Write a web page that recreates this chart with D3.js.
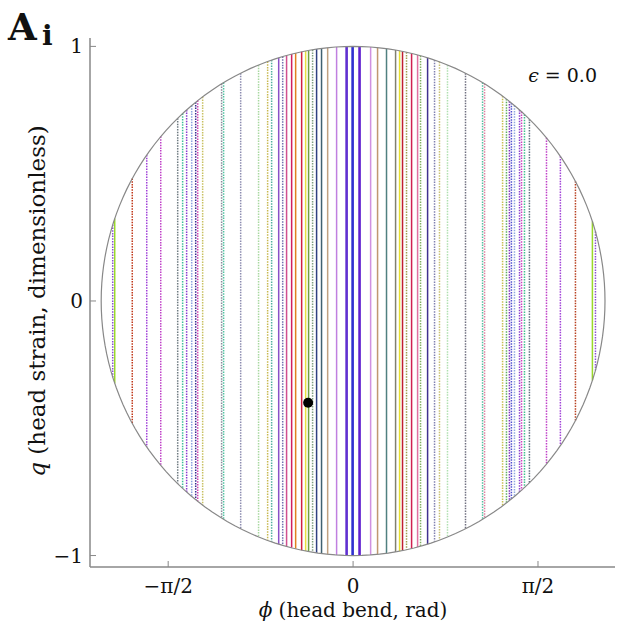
<!DOCTYPE html>
<html>
<head>
<meta charset="utf-8">
<script src="https://cdn.jsdelivr.net/npm/d3@7"></script>
<style>
  body { margin: 0; background: #fff; }
  svg text { font-family: "DejaVu Serif", "Liberation Serif", serif; fill: #111; }
</style>
</head>
<body>
<svg id="chart" width="617" height="630"></svg>
<script>
// orbit lines: phi position (rad), colour, solid or dotted
const linePhi = [
  -2.042, -2.025, -1.876, -1.753, -1.634, -1.490, -1.448, -1.414, -1.371, -1.337,
  -1.320, -1.278, -1.117, -1.100, -0.955, -0.803, -0.726, -0.692, -0.632, -0.598,
  -0.565, -0.522, -0.488, -0.437, -0.403, -0.378, -0.344, -0.310, -0.268, -0.216,
  -0.140, -0.055, -0.004, 0.055, 0.149, 0.208, 0.284, 0.361, 0.395, 0.420,
  0.454, 0.497, 0.548, 0.573, 0.633, 0.692, 0.734, 0.802, 0.955, 1.100,
  1.117, 1.270, 1.303, 1.328, 1.345, 1.371, 1.414, 1.431, 1.456, 1.498,
  1.643, 1.761, 1.889, 2.033, 2.059
];
const lineColor = [
  "#8a4fd0", "#9ad82a", "#c0391b", "#a040d8", "#c040c8", "#6e7a80", "#3fc09a", "#8a3ad0", "#8aa0e0", "#3a2a90",
  "#d040b0", "#c8c060", "#8a8a9a", "#50c0a0", "#8c8cb0", "#a8d8a0", "#c8b850", "#50b0a0", "#8a50c8", "#7070b0",
  "#d05090", "#d02060", "#e08020", "#d02040", "#e8e040", "#70a040", "#80a080", "#304080", "#406070", "#c0a080",
  "#c080e0", "#6030d0", "#3030d0", "#6020d0", "#d090e0", "#c09870", "#508080", "#808070", "#e8e030", "#c02030",
  "#a0a050", "#d02050", "#e070a0", "#80b060", "#403090", "#8080b0", "#c8c070", "#b0e0b0", "#707080", "#50c0a0",
  "#e080a0", "#c8c050", "#60b060", "#8030c0", "#5050d0", "#90a8e0", "#8a40d0", "#d040c0", "#40c090", "#607080",
  "#c040c8", "#a040d8", "#b84020", "#9ad82a", "#8a4fd0"
];
const lineSolid = [
  0, 1, 0, 0, 0, 0, 0, 0, 0, 0,
  0, 0, 0, 0, 0, 0, 0, 0, 1, 0,
  1, 1, 1, 1, 1, 1, 0, 1, 1, 1,
  1, 1, 1, 1, 1, 1, 1, 1, 1, 1,
  0, 1, 1, 0, 1, 0, 0, 0, 0, 0,
  0, 0, 0, 0, 0, 0, 0, 0, 0, 0,
  0, 0, 0, 1, 0
];
const phiRadius = 2.14;      // half-width of the energy circle in phi
const xTicks = [-Math.PI / 2, 0, Math.PI / 2];
const xTickLabels = ["−π/2", "0", "π/2"];
const yTicks = [-1, 0, 1];
const yTickLabels = ["−1", "0", "1"];
const initialPoint = [-0.382, -0.40];

const svg = d3.select("#chart");
const x = d3.scaleLinear().domain([-2.235, 2.225]).range([90, 615]);
const y = d3.scaleLinear().domain([-1.045, 1.033]).range([567, 38]);

// circle boundary
const circ = d3.range(0, 361, 2).map((a) => {
  const t = (a * Math.PI) / 180;
  return [phiRadius * Math.cos(t), Math.sin(t)];
});
const line = d3.line().x((d) => x(d[0])).y((d) => y(d[1]));

// orbit lines
const lines = linePhi.map((p, i) => ({ p, c: lineColor[i], s: lineSolid[i] }));
const half = (p) => Math.sqrt(Math.max(0, 1 - (p / phiRadius) ** 2));
svg.append("g")
  .selectAll("line")
  .data(lines)
  .join("line")
  .attr("x1", (d) => x(d.p))
  .attr("x2", (d) => x(d.p))
  .attr("y1", (d) => y(half(d.p)))
  .attr("y2", (d) => y(-half(d.p)))
  .attr("stroke", (d) => d.c)
  .attr("stroke-width", (d) => (Math.abs(d.p) < 0.06 ? 2.6 : 1.5))
  .attr("stroke-dasharray", (d) => (d.s ? null : "1.5,1.2"));

svg.append("path")
  .attr("d", line(circ))
  .attr("fill", "none")
  .attr("stroke", "#888")
  .attr("stroke-width", 1.2);

// initial condition
svg.append("circle")
  .attr("cx", x(initialPoint[0]))
  .attr("cy", y(initialPoint[1]))
  .attr("r", 5)
  .attr("fill", "#000");

// axes
const axisColor = "#888";
const gx = svg.append("g").attr("transform", "translate(0,567)");
gx.append("line").attr("x1", 90).attr("x2", 615).attr("stroke", axisColor).attr("stroke-width", 1.5);
gx.selectAll(".tk").data(xTicks).join("line")
  .attr("x1", (d) => x(d)).attr("x2", (d) => x(d))
  .attr("y1", 0).attr("y2", -6)
  .attr("stroke", axisColor);
gx.selectAll("text").data(xTicks).join("text")
  .attr("x", (d) => x(d)).attr("y", 26)
  .attr("text-anchor", "middle")
  .attr("font-size", 20)
  .text((d, i) => xTickLabels[i]);

const gy = svg.append("g").attr("transform", "translate(90,0)");
gy.append("line").attr("y1", 38).attr("y2", 567).attr("stroke", axisColor).attr("stroke-width", 1.5);
gy.selectAll(".tk").data(yTicks).join("line")
  .attr("y1", (d) => y(d)).attr("y2", (d) => y(d))
  .attr("x1", 0).attr("x2", 6)
  .attr("stroke", axisColor);
gy.selectAll("text").data(yTicks).join("text")
  .attr("x", -7).attr("y", (d) => y(d) + 7)
  .attr("text-anchor", "end")
  .attr("font-size", 20)
  .text((d, i) => yTickLabels[i]);

// axis titles
const xt = svg.append("text").attr("x", 353).attr("y", 617).attr("text-anchor", "middle").attr("font-size", 20);
xt.append("tspan").attr("font-style", "italic").text("ϕ");
xt.append("tspan").text(" (head bend, rad)");

const yt = svg.append("text")
  .attr("transform", "translate(45,301) rotate(-90)")
  .attr("text-anchor", "middle").attr("font-size", 23);
yt.append("tspan").attr("font-style", "italic").text("q");
yt.append("tspan").text(" (head strain, dimensionless)");

// panel labels
svg.append("text").attr("x", 8).attr("y", 40).attr("font-size", 37).attr("font-weight", "bold").text("A");
svg.append("text").attr("x", 42).attr("y", 45).attr("font-size", 28).attr("font-weight", "bold").text("i");

const eps = svg.append("text").attr("x", 597).attr("y", 82).attr("text-anchor", "end").attr("font-size", 19);
eps.append("tspan").attr("font-style", "italic").text("ϵ");
eps.append("tspan").text(" = 0.0");
</script>
</body>
</html>
